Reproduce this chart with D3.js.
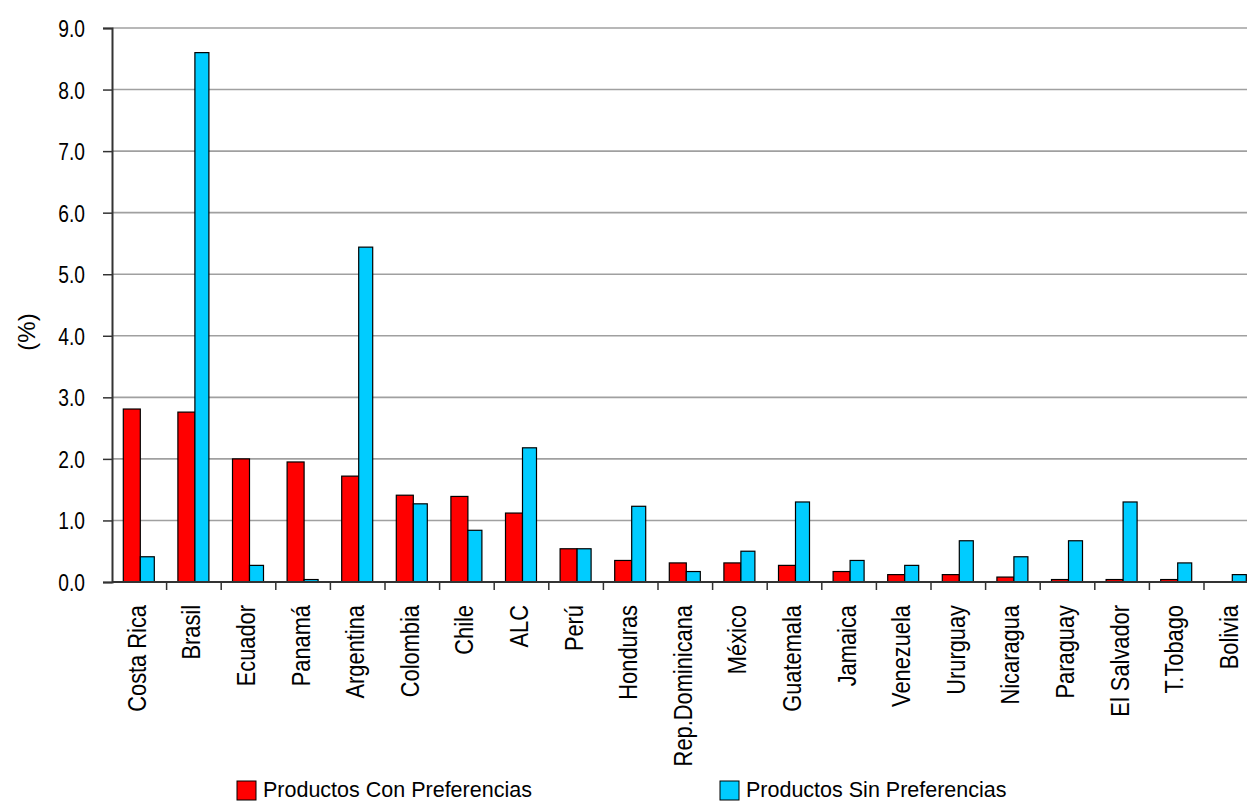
<!DOCTYPE html>
<html><head><meta charset="utf-8">
<script src="https://cdn.jsdelivr.net/npm/d3@7"></script>
<style>
body{margin:0;background:#fff;}
svg text{font-family:"Liberation Sans",Arial,sans-serif;fill:#000;}
</style></head><body>
<svg id="c" width="1247" height="801"></svg>
<script>
const categories = ["Costa Rica","Brasil","Ecuador","Panamá","Argentina","Colombia","Chile","ALC","Perú","Honduras","Rep.Dominicana","México","Guatemala","Jamaica","Venezuela","Ururguay","Nicaragua","Paraguay","El Salvador","T.Tobago","Bolivia"];
const conPref = [2.81,2.76,2.00,1.95,1.72,1.41,1.39,1.12,0.54,0.35,0.31,0.31,0.27,0.17,0.12,0.12,0.08,0.04,0.04,0.04,0.00];
const sinPref = [0.41,8.60,0.27,0.04,5.44,1.27,0.84,2.18,0.54,1.23,0.17,0.50,1.30,0.35,0.27,0.67,0.41,0.67,1.30,0.31,0.12];
const yTicks = [0,1,2,3,4,5,6,7,8,9];
const seriesNames = ["Productos Con Preferencias","Productos Sin Preferencias"];
const colors = ["#ff0000","#00ccff"];

(function(){
const svg = d3.select("#c");
const mL = 112, mR = 1258.6, mT = 28, mB = 582;
const x = d3.scaleBand().domain(categories).range([mL, mR]).paddingInner(0).paddingOuter(0);
const y = d3.scaleLinear().domain([0, 9]).range([mB, mT]);
// sub-bar geometry: red slightly wider than blue, as in the reference
const subOff = [0, 17], subW = [17, 14];
const groupOffset = (x.bandwidth() - 31) / 2 - 0.5;

svg.append("g").selectAll("line").data(yTicks.filter(d=>d>0)).join("line")
  .attr("x1", mL).attr("x2", mR).attr("y1", d=>y(d)).attr("y2", d=>y(d))
  .attr("stroke", "#a0a0a0").attr("stroke-width", 1.6);

const data = [conPref, sinPref];
data.forEach((vals, si) => {
  svg.append("g").selectAll("rect").data(categories.map((c,i)=>({c, v: vals[i]})).filter(d=>d.v>0)).join("rect")
    .attr("x", d => x(d.c) + groupOffset + subOff[si])
    .attr("y", d => y(d.v))
    .attr("width", subW[si])
    .attr("height", d => y(0) - y(d.v))
    .attr("fill", colors[si]).attr("stroke", "#000").attr("stroke-width", 1.2);
});

const yAxis = d3.axisLeft(y).tickValues(yTicks).tickFormat(d3.format(".1f")).tickSize(9).tickPadding(0);
const ya = svg.append("g").attr("transform", `translate(${mL},0)`).call(yAxis);
ya.attr("font-family", null).attr("font-size", null);
ya.select(".domain").attr("stroke", "#333").attr("stroke-width", 2);
ya.selectAll(".tick line").attr("stroke", "#333").attr("stroke-width", 1.5);
ya.selectAll(".tick text").attr("x", 0).attr("dy", null).attr("y", 8.5)
  .attr("transform", "translate(-27,0) scale(0.8,1)").attr("font-size", 24);

const xa = svg.append("g").attr("transform", `translate(0,${mB})`);
xa.append("line").attr("x1", mL).attr("x2", mR).attr("y1", 0).attr("y2", 0).attr("stroke", "#333").attr("stroke-width", 2);
xa.selectAll("line.tk").data(categories).join("line").attr("class","tk")
  .attr("x1", d=>x(d)+x.bandwidth()).attr("x2", d=>x(d)+x.bandwidth()).attr("y1",0).attr("y2",8)
  .attr("stroke","#333").attr("stroke-width",1.5);
xa.selectAll("text").data(categories).join("text")
  .attr("transform", d => `translate(${x(d)+x.bandwidth()/2 + 6.5},23) rotate(-90) scale(0.84,1)`)
  .attr("text-anchor", "end").attr("font-size", 26).text(d=>d);

svg.append("text").attr("transform", "translate(35,332) rotate(-90)").attr("text-anchor","middle").attr("font-size",24).text("(%)");

const legX = [237, 720];
seriesNames.forEach((n, i) => {
  svg.append("rect").attr("x", legX[i]).attr("y", 781).attr("width", 19).attr("height", 19)
    .attr("fill", colors[i]).attr("stroke", "#000").attr("stroke-width", 1);
  svg.append("text").attr("x", legX[i] + 26).attr("y", 797).attr("font-size", 21.5).text(n);
});
})();
</script></body></html>
